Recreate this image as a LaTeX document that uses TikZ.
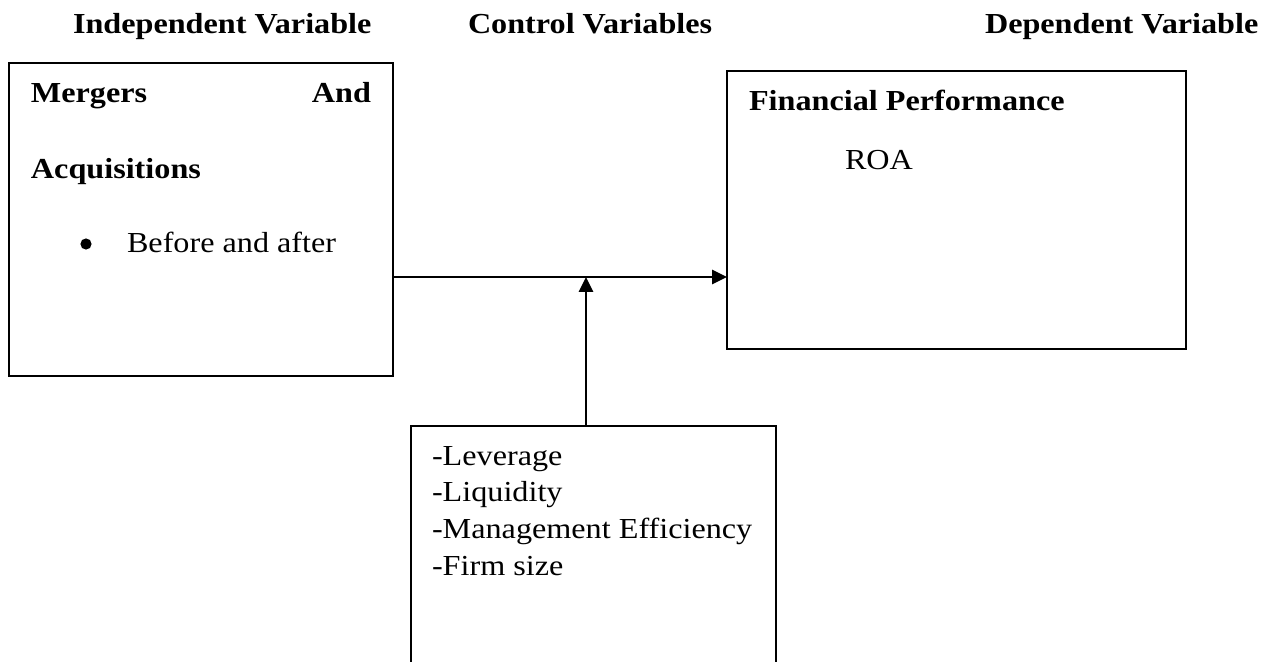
\documentclass[tikz,border=0pt]{standalone}
\usepackage{fontspec}
\setmainfont[FakeStretch=1.11]{Liberation Serif}
\usetikzlibrary{arrows.meta}
\begin{document}
\begin{tikzpicture}[x=0.5pt,y=-0.5pt,
  box/.style={draw,line width=1pt,rectangle,inner sep=0pt,outer sep=0pt},
  txt/.style={inner sep=0pt,outer sep=0pt,anchor=base west,font=\fontsize{14.5}{18.25}\selectfont},
  btxt/.style={txt,font=\fontsize{14.5}{18.25}\selectfont\bfseries},
  conn/.style={line width=1pt,-{Triangle[length=7.5pt,width=7.2pt]}}]
\useasboundingbox (0,0) rectangle (1274,662);
\clip (0,0) rectangle (1274,662);
% headings
\node[btxt] (hiv) at (73,34) {Independent Variable};
\node[btxt] (hcv) at (468,34) {Control Variables};
\node[btxt] (hdv) at (985,34) {Dependent Variable};
% boxes
\node[box,minimum width=192pt,minimum height=156.5pt] (iv) at (201,219.5) {};
\node[box,minimum width=229.5pt,minimum height=139pt] (dv) at (956.5,210) {};
\node[box,minimum width=182.5pt,minimum height=137pt] (cv) at (593.5,563) {};
% left box text
\node[btxt] (m1) at (31,103) {Mergers};
\node[btxt,anchor=base east] (m2) at (371,103) {And};
\node[btxt] (m3) at (31,179) {Acquisitions};
\node[circle,fill,inner sep=0pt,minimum size=5.6pt] (bul) at (86,244) {};
\node[txt] (ba) at (127,253) {Before and after};
% right box text
\node[btxt] (fp) at (749,111) {Financial Performance};
\node[txt] (roa) at (845,170) {ROA};
% control text
\node[txt] (c1) at (432,466) {-Leverage};
\node[txt] (c2) at (432,502) {-Liquidity};
\node[txt] (c3) at (432,538.5) {-Management Efficiency};
\node[txt] (c4) at (432,575) {-Firm size};
% connectors
\coordinate (j) at (586,277);
\draw[conn] (iv.east |- j) -- (dv.west |- j);
\draw[conn] (j |- cv.north) -- (j);
\end{tikzpicture}
\end{document}
